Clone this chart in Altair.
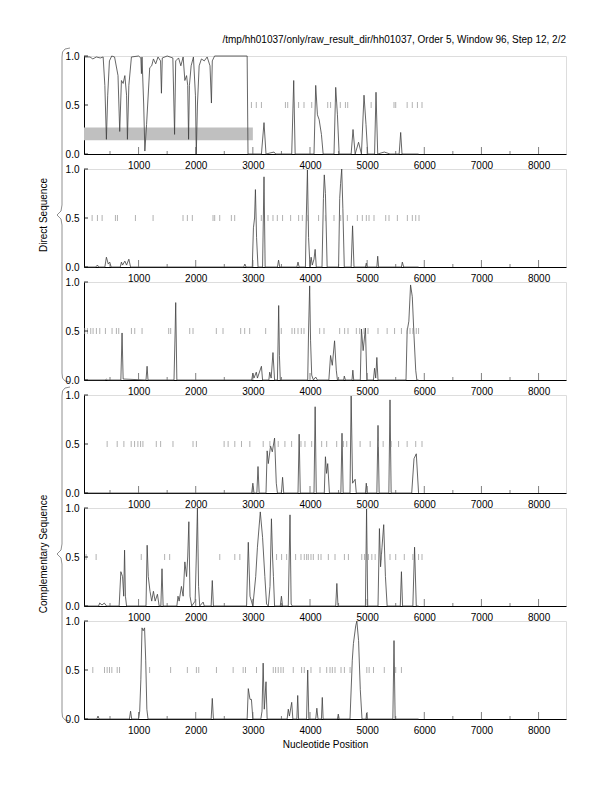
import altair as alt
import pandas as pd

X_MIN, X_MAX = 45, 8480
W, H = 482, 98
FONT = "Liberation Sans"

TITLE = "/tmp/hh01037/only/raw_result_dir/hh01037, Order 5, Window 96, Step 12, 2/2"
X_TITLE = "Nucleotide Position"
LEFT_LABELS = ["Direct Sequence", "Complementary Sequence"]

MAJOR = [1000, 2000, 3000, 4000, 5000, 6000, 7000, 8000]
MINOR = [500, 1500, 2500, 3500, 4500, 5500, 6500, 7500]
YTICKS = [0.0, 0.5, 1.0]

# predicted-gene band in panel 1
BAND = {"pos": [45], "pos2": [3000], "score": [0.14], "score2": [0.27]}

P1 = [(45,0.99),(150,0.99),(200,0.97),(260,0.99),(330,0.98),(380,0.99),(410,0.7),(437,0.15),(460,0.6),(490,0.95),
      (530,1.0),(580,0.99),(640,0.8),(670,0.23),(700,0.75),(730,0.72),(760,0.8),(790,0.6),(805,0.15),(830,0.7),
      (875,0.99),(1000,1.0),(1040,0.98),(1050,0.82),(1060,0.99),(1090,0.5),(1110,0.03),(1140,0.3),(1195,0.88),
      (1230,0.9),(1260,0.97),(1300,0.92),(1340,0.99),(1385,0.95),(1400,0.62),(1415,0.98),(1500,1.0),(1600,0.98),
      (1630,0.2),(1650,0.95),(1700,0.98),(1740,0.9),(1780,0.99),(1810,0.75),(1840,0.8),(1860,0.7),(1875,0.15),
      (1890,0.7),(1920,0.9),(1960,0.99),(1995,0.6),(2010,0.0),(2030,0.5),(2060,0.9),(2100,0.97),(2150,0.95),
      (2200,0.99),(2250,0.9),(2275,0.52),(2290,0.95),(2330,1.0),(2900,1.0),(2915,0.0),(3150,0.0),(3195,0.32),
      (3230,0.0),(3370,0.02),(3400,0.0),(3680,0.0),(3715,0.75),(3740,0.0),(4070,0.0),(4100,0.7),(4130,0.4),
      (4160,0.35),(4200,0.2),(4230,0.0),(4420,0.0),(4450,0.68),(4480,0.4),(4510,0.0),(4720,0.0),(4753,0.25),
      (4790,0.0),(4850,0.12),(4900,0.0),(4945,0.6),(4980,0.3),(5010,0.0),(5130,0.0),(5155,0.63),(5185,0.0),
      (5300,0.02),(5400,0.0),(5560,0.0),(5587,0.22),(5610,0.0),(5900,0.0)]

P2 = [(45,0),(250,0),(280,0.02),(300,0),(410,0),(437,0.1),(470,0.03),(495,0.05),(520,0),(680,0),(700,0.05),
      (720,0.02),(760,0.06),(790,0.02),(830,0.08),(860,0),(2840,0),(2860,0.03),(2880,0),(2990,0),(3010,0.4),
      (3030,0.5),(3045,0.79),(3065,0.3),(3090,0),(3170,0),(3195,0.92),(3215,0),(3430,0),(3450,0.07),(3470,0),
      (3770,0),(3790,0.05),(3810,0),(3920,0),(3935,0.5),(3955,0.99),(3975,0.3),(4000,0),(4020,0.1),(4040,0.02),
      (4070,0.08),(4090,0.18),(4110,0),(4210,0),(4235,0.7),(4250,0.94),(4270,0.75),(4300,0),(4500,0),(4520,0.7),
      (4535,0.85),(4555,1.0),(4575,0.6),(4600,0),(4720,0),(4745,0.42),(4770,0),(4970,0),(4985,0.04),(5000,0),
      (5170,0),(5185,0.11),(5200,0),(5600,0),(5616,0.05),(5640,0),(5900,0)]

P3 = [(45,0),(420,0),(437,0.01),(460,0),(690,0),(711,0.48),(730,0.01),(1130,0),(1149,0.14),(1165,0),(1620,0),
      (1640,0.5),(1650,0.79),(1670,0),(2980,0),(3000,0.07),(3020,0.02),(3060,0.08),(3080,0.02),(3150,0.14),
      (3170,0),(3280,0),(3295,0.08),(3320,0.02),(3352,0.28),(3380,0),(3430,0),(3452,0.76),(3465,0.25),(3480,0),
      (3960,0),(3975,0.5),(3994,0.96),(4010,0.4),(4030,0.05),(4060,0),(4100,0.03),(4130,0),(4330,0),(4360,0.25),
      (4390,0.15),(4430,0.4),(4460,0.1),(4480,0),(4590,0),(4600,0.04),(4620,0),(4735,0),(4750,0.1),(4765,0),
      (4880,0),(4900,0.52),(4930,0.3),(4970,0.53),(4995,0),(5110,0),(5130,0.12),(5150,0.02),(5170,0.23),(5190,0),
      (5680,0),(5700,0.5),(5730,0.6),(5760,0.97),(5790,0.85),(5820,0.45),(5850,0.1),(5870,0),(5900,0)]

P4 = [(45,0),(2980,0),(3000,0.1),(3020,0),(3070,0),(3090,0.27),(3110,0),(3230,0),(3250,0.43),(3270,0.3),
      (3310,0.48),(3340,0.42),(3380,0.56),(3410,0.1),(3430,0),(3500,0),(3520,0.16),(3540,0),(3790,0),(3810,0.6),
      (3830,0),(4070,0),(4090,0.88),(4110,0),(4250,0),(4270,0.37),(4290,0.2),(4310,0.3),(4340,0),(4540,0),
      (4560,0.61),(4580,0),(4700,0),(4720,0.99),(4745,0.1),(4790,0.14),(4810,0),(4970,0),(4985,0.1),(5000,0),
      (5170,0),(5190,0.69),(5210,0),(5380,0),(5400,0.95),(5420,0),(5780,0),(5820,0.35),(5860,0.4),(5900,0)]

P5 = [(45,0),(300,0),(320,0.03),(360,0.01),(400,0.03),(440,0),(660,0),(690,0.35),(720,0.3),(740,0.1),(755,0.57),
      (770,0.1),(790,0),(1130,0),(1150,0.62),(1170,0.3),(1200,0.15),(1230,0.05),(1260,0.15),(1290,0.05),
      (1330,0.12),(1360,0),(1390,0),(1410,0.38),(1430,0),(1670,0),(1690,0.1),(1710,0.05),(1750,0.2),(1780,0.1),
      (1810,0.45),(1840,0.3),(1860,0.5),(1880,0.86),(1900,0.1),(1930,0),(1990,0.05),(2010,0.5),(2030,1.0),
      (2050,0.2),(2070,0),(2130,0.04),(2150,0),(2270,0),(2290,0.26),(2310,0),(2890,0),(2920,0.65),(2950,0.1),
      (2975,0.05),(3000,0),(3050,0.3),(3080,0.6),(3130,0.96),(3170,0.7),(3210,0.3),(3240,0.02),(3270,0),
      (3300,0.2),(3325,0.89),(3345,0.5),(3360,0.3),(3380,0),(3480,0),(3500,0.1),(3520,0),(3620,0),(3650,0.93),
      (3670,0.02),(3690,0),(4450,0),(4470,0.23),(4490,0),(4970,0),(4990,0.99),(5010,0),(5190,0),(5215,0.79),
      (5235,0.4),(5260,0.6),(5290,0.83),(5320,0.3),(5350,0),(5580,0),(5600,0.35),(5620,0),(5800,0),(5830,0.6),
      (5860,0),(5900,0)]

P6 = [(45,0),(270,0),(290,0.03),(310,0),(840,0),(860,0.08),(880,0),(1000,0),(1020,0.08),(1040,0.4),(1060,0.93),
      (1080,0.9),(1105,0.93),(1125,0.6),(1145,0.1),(1165,0),(2270,0),(2290,0.21),(2310,0),(2900,0),(2920,0.31),
      (2950,0.2),(2975,0.2),(3000,0),(3140,0),(3160,0.08),(3180,0.57),(3200,0.1),(3230,0.38),(3250,0),(3600,0),
      (3620,0.1),(3640,0.03),(3680,0.17),(3700,0),(3770,0),(3785,0.24),(3800,0),(3940,0),(3960,0.5),(3980,0),
      (4100,0),(4120,0.11),(4140,0),(4200,0),(4215,0.22),(4230,0),(4480,0),(4495,0.05),(4510,0),(4700,0),
      (4740,0.6),(4760,0.77),(4800,0.95),(4820,1.0),(4850,0.8),(4880,0.3),(4910,0),(4980,0),(4990,0.06),(5000,0),
      (5450,0),(5470,0.8),(5490,0),(5900,0)]

S1 = [2975, 3060, 3150, 3570, 3610, 3720, 3800, 3895, 4030, 4310, 4360, 4450, 4530, 4620, 4660, 5070, 5470,
      5500, 5700, 5790, 5880, 5960]
S2 = [187, 280, 362, 595, 630, 945, 1254, 1778, 1854, 1941, 2303, 2332, 2420, 2624, 2682, 3148, 3265, 3352,
      3428, 3520, 3661, 3801, 3866, 3950, 4150, 4270, 4420, 4537, 4654, 4829, 4916, 4986, 5033, 5120, 5325, 5383,
      5529, 5704, 5791, 5850, 5908]
S3 = [58, 105, 163, 204, 262, 321, 420, 536, 612, 653, 875, 933, 1061, 1527, 1562, 1895, 1953, 2361, 2478,
      2787, 2857, 2944, 3224, 3498, 3685, 3731, 3790, 3848, 3895, 4169, 4245, 4519, 4606, 4665, 4811, 4869, 4945,
      5015, 5190, 5350, 5480, 5600, 5700, 5750, 5800, 5860, 5900]
S4 = [450, 626, 743, 871, 930, 988, 1035, 1076, 1310, 1386, 1602, 1953, 2012, 2497, 2567, 2684, 2801, 2947,
      3181, 3298, 3444, 3561, 3678, 3842, 3912, 4029, 4204, 4292, 4467, 4584, 4643, 4877, 5053, 5200, 5280, 5420,
      5550, 5700, 5850, 5960]
S5 = [82, 257, 1047, 1456, 1544, 2421, 2684, 2772, 3415, 3503, 3591, 3748, 3842, 3900, 3941, 3970, 4017, 4058,
      4146, 4193, 4321, 4438, 4602, 4672, 4906, 4953, 5023, 5082, 5140, 5250, 5400, 5500, 5650, 5800, 5900, 5960]
S6 = [199, 404, 450, 491, 532, 626, 667, 1193, 1561, 1854, 2012, 2053, 2363, 2655, 2830, 2871, 3064, 3357,
      3398, 3444, 3491, 3532, 3707, 3853, 3900, 4017, 4175, 4292, 4350, 4391, 4438, 4543, 4602, 4701, 4994, 5035,
      5111, 5300, 5500, 5600]

# curly brace outline, offsets in px from the top-left corner of the middle panel of each group
BRACE_DX = [-14, -19, -21.5, -22, -22, -23, -27, -23, -22, -22, -21.5, -19, -14]
BRACE_DY = [-121, -120, -117, -112, 36, 42, 46, 50, 56, 204, 209, 212, 213]

xsc = alt.Scale(domain=[X_MIN, X_MAX], nice=False, zero=False)
ysc = alt.Scale(domain=[0, 1], nice=False, zero=False)


def brace_df():
    return pd.DataFrame({
        "pos": [X_MIN + dx / W * (X_MAX - X_MIN) for dx in BRACE_DX],
        "score": [1 - dy / H for dy in BRACE_DY],
        "o": list(range(len(BRACE_DX))),
    })


def make_panel(points, stops, band=False, title=False, left_label=None, xtitle=False):
    ax_kw = dict(values=MAJOR, format="d", ticks=False, grid=False, labelFont=FONT, labelFontSize=10,
                 labelColor="black", labelPadding=6, domainColor="black", domainWidth=1,
                 titleFont=FONT, titleFontSize=10, titleFontWeight="normal", titleColor="black",
                 titlePadding=4)
    ax_kw["title"] = X_TITLE if xtitle else ""
    xaxis = alt.Axis(**ax_kw)
    yaxis = alt.Axis(values=YTICKS, format=".1f", ticks=False, grid=False, labelFont=FONT, labelFontSize=10,
                     labelColor="black", labelPadding=5, domainColor="black", domainWidth=1, title="")
    layers = []
    if band:
        layers.append(alt.Chart(pd.DataFrame(BAND)).mark_rect(color="#c0c0c0").encode(
            x=alt.X("pos:Q", scale=xsc, axis=xaxis), x2="pos2:Q",
            y=alt.Y("score:Q", scale=ysc, axis=yaxis), y2="score2:Q"))
    layers.append(alt.Chart(pd.DataFrame(points, columns=["pos", "score"])).mark_line(
        color="#404040", strokeWidth=0.8).encode(
        x=alt.X("pos:Q", scale=xsc, axis=xaxis), y=alt.Y("score:Q", scale=ysc, axis=yaxis)))
    layers.append(alt.Chart(pd.DataFrame({"pos": stops})).mark_rule(color="#909090", strokeWidth=0.7).encode(
        x=alt.X("pos:Q", scale=xsc), y=alt.value(H / 2 - 3), y2=alt.value(H / 2 + 3)))
    layers.append(alt.Chart(pd.DataFrame({"pos": MAJOR})).mark_rule(color="#606060", strokeWidth=0.8).encode(
        x=alt.X("pos:Q", scale=xsc), y=alt.value(H), y2=alt.value(H - 7)))
    layers.append(alt.Chart(pd.DataFrame({"pos": MINOR})).mark_rule(color="#606060", strokeWidth=0.8).encode(
        x=alt.X("pos:Q", scale=xsc), y=alt.value(H), y2=alt.value(H - 3)))
    layers.append(alt.Chart(pd.DataFrame({"score": YTICKS})).mark_rule(color="black", strokeWidth=0.8).encode(
        y=alt.Y("score:Q", scale=ysc), x=alt.value(0), x2=alt.value(4)))
    if title:
        layers.append(alt.Chart(pd.DataFrame({"t": [TITLE]})).mark_text(
            align="right", baseline="middle", font=FONT, fontSize=10, color="black").encode(
            text="t:N", x=alt.value(W), y=alt.value(-16)))
    if left_label:
        layers.append(alt.Chart(pd.DataFrame({"t": [left_label]})).mark_text(
            align="center", baseline="middle", font=FONT, fontSize=10, angle=270, color="black").encode(
            text="t:N", x=alt.value(-40), y=alt.value(46)))
        layers.append(alt.Chart(brace_df()).mark_line(color="#909090", strokeWidth=1).encode(
            x=alt.X("pos:Q", scale=xsc), y=alt.Y("score:Q", scale=ysc), order="o:Q"))
    return alt.layer(*layers).properties(width=W, height=H)


panels = [
    make_panel(P1, S1, band=True, title=True),
    make_panel(P2, S2, left_label=LEFT_LABELS[0]),
    make_panel(P3, S3),
    make_panel(P4, S4),
    make_panel(P5, S5, left_label=LEFT_LABELS[1]),
    make_panel(P6, S6, xtitle=True),
]

chart = alt.vconcat(*panels, spacing=15, bounds="flush").properties(
    padding={"left": 30, "top": 26, "right": 5, "bottom": 5}
).configure_view(stroke=None).configure(background="white")

chart.save("out.html", embed_options={"renderer": "svg", "actions": False})
